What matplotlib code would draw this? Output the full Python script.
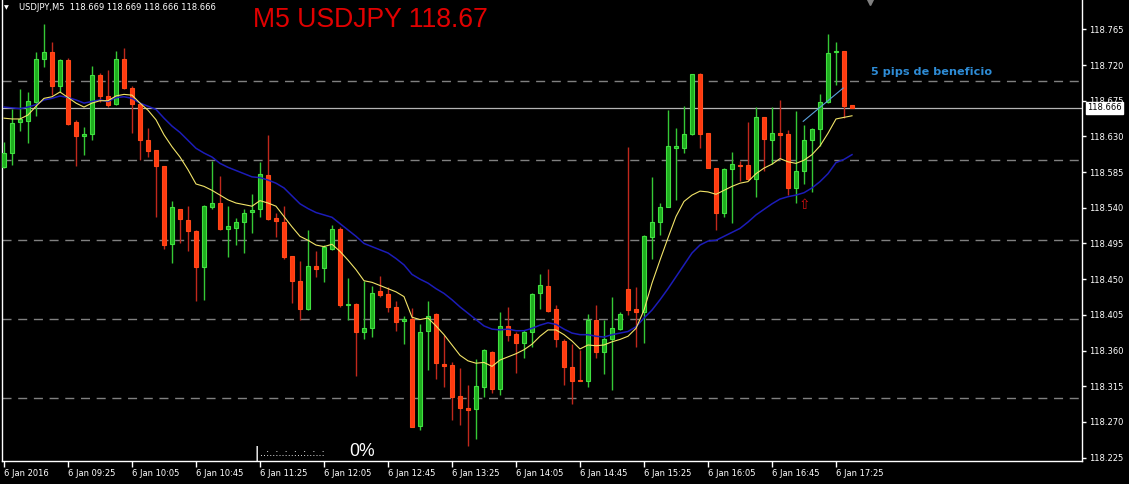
import matplotlib
matplotlib.use('Agg')
import matplotlib.pyplot as plt
import numpy as np

# USDJPY M5, 6 Jan 2016, barras desde las 08:45
opens = [118.592, 118.609, 118.648, 118.649, 118.674, 118.727, 118.736, 118.694, 118.726, 118.648,
         118.630, 118.633, 118.708, 118.681, 118.671, 118.728, 118.691, 118.671, 118.626, 118.613,
         118.593, 118.494, 118.539, 118.525, 118.511, 118.465, 118.541, 118.546, 118.513, 118.515,
         118.522, 118.535, 118.538, 118.581, 118.527, 118.522, 118.479, 118.448, 118.412, 118.466,
         118.464, 118.488, 118.513, 118.417, 118.419, 118.383, 118.389, 118.435, 118.431, 118.415,
         118.397, 118.400, 118.265, 118.385, 118.406, 118.343, 118.342, 118.303, 118.288, 118.286,
         118.314, 118.358, 118.312, 118.391, 118.381, 118.370, 118.383, 118.432, 118.441, 118.412,
         118.372, 118.339, 118.323, 118.321, 118.399, 118.358, 118.374, 118.387, 118.438, 118.412,
         118.408, 118.503, 118.522, 118.541, 118.616, 118.616, 118.633, 118.709, 118.634, 118.590,
         118.533, 118.589, 118.594, 118.594, 118.576, 118.655, 118.626, 118.634, 118.633, 118.565,
         118.586, 118.626, 118.639, 118.674, 118.736, 118.738, 118.669]
highs = [118.623, 118.664, 118.690, 118.686, 118.736, 118.772, 118.749, 118.727, 118.729, 118.651,
         118.642, 118.719, 118.710, 118.714, 118.738, 118.742, 118.693, 118.672, 118.641, 118.613,
         118.593, 118.548, 118.539, 118.542, 118.512, 118.544, 118.599, 118.580, 118.542, 118.527,
         118.539, 118.557, 118.598, 118.632, 118.534, 118.542, 118.479, 118.473, 118.512, 118.486,
         118.493, 118.518, 118.516, 118.452, 118.420, 118.448, 118.441, 118.454, 118.440, 118.422,
         118.403, 118.413, 118.393, 118.422, 118.407, 118.380, 118.345, 118.338, 118.317, 118.349,
         118.362, 118.359, 118.408, 118.415, 118.383, 118.386, 118.433, 118.456, 118.463, 118.417,
         118.374, 118.368, 118.361, 118.406, 118.417, 118.399, 118.427, 118.409, 118.617, 118.440,
         118.506, 118.579, 118.546, 118.663, 118.641, 118.668, 118.709, 118.710, 118.634, 118.590,
         118.590, 118.610, 118.599, 118.648, 118.667, 118.655, 118.667, 118.676, 118.638, 118.662,
         118.644, 118.640, 118.684, 118.759, 118.749, 118.738, 118.669]
lows = [118.590, 118.594, 118.637, 118.622, 118.656, 118.718, 118.682, 118.686, 118.645, 118.593,
        118.607, 118.626, 118.674, 118.667, 118.670, 118.690, 118.634, 118.600, 118.604, 118.528,
        118.488, 118.470, 118.496, 118.486, 118.422, 118.424, 118.539, 118.512, 118.478, 118.493,
        118.483, 118.508, 118.529, 118.525, 118.503, 118.475, 118.420, 118.399, 118.411, 118.453,
        118.446, 118.487, 118.415, 118.399, 118.328, 118.375, 118.377, 118.428, 118.408, 118.385,
        118.368, 118.263, 118.260, 118.336, 118.324, 118.314, 118.273, 118.266, 118.240, 118.249,
        118.302, 118.307, 118.304, 118.372, 118.332, 118.350, 118.364, 118.412, 118.409, 118.364,
        118.317, 118.292, 118.321, 118.314, 118.351, 118.330, 118.310, 118.386, 118.405, 118.365,
        118.369, 118.476, 118.506, 118.541, 118.550, 118.609, 118.632, 118.616, 118.590, 118.512,
        118.529, 118.521, 118.574, 118.575, 118.553, 118.586, 118.595, 118.601, 118.556, 118.546,
        118.570, 118.560, 118.618, 118.672, 118.695, 118.653, 118.666]
closes = [118.609, 118.647, 118.652, 118.675, 118.728, 118.736, 118.694, 118.726, 118.646, 118.631,
          118.633, 118.708, 118.681, 118.670, 118.727, 118.691, 118.671, 118.626, 118.612, 118.593,
          118.493, 118.541, 118.526, 118.511, 118.465, 118.542, 118.546, 118.513, 118.517, 118.522,
          118.534, 118.537, 118.583, 118.526, 118.523, 118.478, 118.448, 118.412, 118.467, 118.463,
          118.490, 118.513, 118.417, 118.419, 118.383, 118.389, 118.433, 118.430, 118.415, 118.396,
          118.400, 118.263, 118.383, 118.404, 118.344, 118.341, 118.302, 118.288, 118.285, 118.315,
          118.361, 118.312, 118.391, 118.380, 118.370, 118.383, 118.431, 118.443, 118.410, 118.374,
          118.339, 118.322, 118.321, 118.399, 118.358, 118.374, 118.388, 118.406, 118.411, 118.408,
          118.504, 118.522, 118.541, 118.618, 118.618, 118.633, 118.709, 118.633, 118.590, 118.533,
          118.589, 118.595, 118.593, 118.576, 118.655, 118.627, 118.634, 118.632, 118.565, 118.587,
          118.625, 118.639, 118.673, 118.735, 118.738, 118.668, 118.666]

# medias moviles
ma_rapida = [118.653, 118.652, 118.652, 118.657, 118.668, 118.678, 118.680, 118.686, 118.679, 118.672,
             118.667, 118.672, 118.675, 118.675, 118.681, 118.683, 118.682, 118.672, 118.663, 118.651,
             118.632, 118.617, 118.604, 118.588, 118.570, 118.567, 118.562, 118.556, 118.550, 118.546,
             118.544, 118.542, 118.549, 118.546, 118.542, 118.529, 118.516, 118.504, 118.499, 118.493,
             118.491, 118.494, 118.485, 118.474, 118.462, 118.448, 118.446, 118.442, 118.438, 118.434,
             118.428, 118.402, 118.399, 118.401, 118.391, 118.380, 118.367, 118.354, 118.347, 118.344,
             118.345, 118.340, 118.348, 118.352, 118.356, 118.361, 118.368, 118.378, 118.386, 118.386,
             118.380, 118.372, 118.362, 118.367, 118.366, 118.367, 118.371, 118.374, 118.378, 118.388,
             118.411, 118.445, 118.474, 118.502, 118.529, 118.548, 118.556, 118.561, 118.560, 118.557,
             118.562, 118.567, 118.571, 118.573, 118.583, 118.590, 118.595, 118.602, 118.598, 118.596,
             118.600, 118.607, 118.618, 118.634, 118.652, 118.654, 118.656]
ma_lenta = [118.667, 118.666, 118.665, 118.667, 118.670, 118.676, 118.678, 118.681, 118.679, 118.676,
            118.672, 118.674, 118.676, 118.674, 118.679, 118.680, 118.678, 118.672, 118.668, 118.664,
            118.653, 118.643, 118.635, 118.625, 118.615, 118.609, 118.604, 118.596, 118.591, 118.587,
            118.583, 118.579, 118.578, 118.575, 118.571, 118.565, 118.555, 118.545, 118.539, 118.534,
            118.531, 118.528, 118.520, 118.512, 118.504, 118.495, 118.491, 118.487, 118.483, 118.476,
            118.468, 118.456, 118.450, 118.445, 118.438, 118.432, 118.424, 118.415, 118.407, 118.399,
            118.391, 118.387, 118.386, 118.387, 118.385, 118.385, 118.388, 118.392, 118.395, 118.393,
            118.387, 118.382, 118.380, 118.380, 118.378, 118.377, 118.380, 118.382, 118.384, 118.390,
            118.401, 118.411, 118.424, 118.438, 118.453, 118.468, 118.483, 118.493, 118.498, 118.499,
            118.504, 118.509, 118.514, 118.522, 118.531, 118.538, 118.545, 118.551, 118.554, 118.556,
            118.559, 118.565, 118.573, 118.583, 118.597, 118.601, 118.607]

# linea de tendencia dibujada a mano y flecha de entrada
tendencia_x = [99.9, 104.9]
tendencia_y = [118.649, 118.691]
flecha_x = 100
flecha_y = 118.543

precio_actual = 118.666
niveles_grid = [118.3, 118.4, 118.5, 118.6, 118.7]
precios_eje = [118.225, 118.270, 118.315, 118.360, 118.405, 118.450, 118.495,
               118.540, 118.585, 118.630, 118.675, 118.720, 118.765]
pos_horas = [0, 8, 16, 24, 32, 40, 48, 56, 64, 72, 80, 88, 96, 104]
etiquetas_horas = ['6 Jan 2016', '6 Jan 09:25', '6 Jan 10:05', '6 Jan 10:45', '6 Jan 11:25',
                   '6 Jan 12:05', '6 Jan 12:45', '6 Jan 13:25', '6 Jan 14:05', '6 Jan 14:45',
                   '6 Jan 15:25', '6 Jan 16:05', '6 Jan 16:45', '6 Jan 17:25']

W, H = 1129, 484
fig = plt.figure(figsize=(W / 100, H / 100), dpi=100, facecolor='black')
ax = fig.add_axes([2 / W, 23 / H, 1080 / W, 461 / H])
ax.set_facecolor('black')

x = np.arange(len(opens))
o = np.array(opens)
c = np.array(closes)
sube = c >= o

# rejilla y precio actual
for g in niveles_grid:
    ax.axhline(g, color='#808080', lw=1, dashes=(6.5, 4.8), zorder=1)
ax.axhline(precio_actual, color='#b4b4b4', lw=0.9, zorder=1)

# velas
col_mecha = np.where(sube, '#35c835', '#c0281c')
ax.vlines(x, lows, highs, colors=col_mecha, lw=1, zorder=3)
cuerpo = np.maximum(np.abs(c - o), 0.0012)
base = np.minimum(o, c)
ax.bar(x[sube], cuerpo[sube], bottom=base[sube], width=0.6,
       color='#1fae1f', edgecolor='#40e040', linewidth=0.8, zorder=4)
ax.bar(x[~sube], cuerpo[~sube], bottom=base[~sube], width=0.6,
       color='#ff3a10', edgecolor='#ff4818', linewidth=0.8, zorder=4)

# medias
ax.plot(x, ma_lenta, color='#1c1cb8', lw=1.1, zorder=5)
ax.plot(x, ma_rapida, color='#f2e468', lw=0.8, zorder=5)
ax.plot(tendencia_x, tendencia_y, color='#5aa0dc', lw=0.8, zorder=5)
ax.text(flecha_x, flecha_y, '\u21e7', color='#d01010', fontsize=10,
        ha='center', va='center', zorder=6)

ax.set_xlim(-0.25, 134.75)
ax.set_ylim(118.2207, 118.802)

# ejes
for s in ['left', 'right', 'bottom']:
    ax.spines[s].set_color('white')
    ax.spines[s].set_linewidth(1)
ax.spines['top'].set_visible(False)

ax.set_xticks(pos_horas)
ax.set_xticklabels(etiquetas_horas, ha='left')
ax.tick_params(axis='x', colors='white', labelcolor='white', labelsize=6,
               length=4, width=1, pad=2)
ax.yaxis.tick_right()
ax.set_yticks(precios_eje)
ax.set_yticklabels(['%.3f' % p for p in precios_eje])
ax.tick_params(axis='y', colors='white', labelcolor='white', labelsize=6,
               length=3, width=1, pad=2)

ax.annotate('%.3f' % precio_actual, xy=(1, precio_actual),
            xycoords=ax.get_yaxis_transform(), xytext=(5, 0),
            textcoords='offset pixels', va='center', ha='left', fontsize=6,
            color='black', annotation_clip=False, zorder=10,
            bbox=dict(boxstyle='square,pad=0.15', fc='white', ec='white'))

# marcador de desplazamiento arriba
ax.plot([868 / 1080], [0.997], marker='v', ms=6, color='#808080',
        transform=ax.transAxes, clip_on=False)


def fx(px):
    return px / W


def fy(py):
    return 1 - py / H


fig.text(fx(4), fy(8), '\u25bc', fontsize=4.5, color='white', va='center')
fig.text(fx(19), fy(8), 'USDJPY,M5  118.669 118.669 118.666 118.666',
         fontsize=6, color='white', va='center')
fig.text(fx(253), fy(27), 'M5 USDJPY 118.67', fontsize=19.2, color='#e00000',
         family='Liberation Sans', va='baseline')
fig.text(fx(871), fy(75), '5 pips de beneficio', fontsize=8.1, color='#2e8cd6',
         fontweight='bold', va='baseline')
fig.text(fx(255), fy(458), '|', fontsize=12, color='white', va='baseline',
         family='Liberation Sans')
fig.text(fx(260), fy(456), '..:..:..:..:..:..:..:', fontsize=7, color='white',
         va='baseline')
fig.text(fx(349), fy(456), '0%', fontsize=12.7, color='white', va='baseline',
         family='Liberation Sans')

fig.savefig('out.png', dpi=100, facecolor='black')
